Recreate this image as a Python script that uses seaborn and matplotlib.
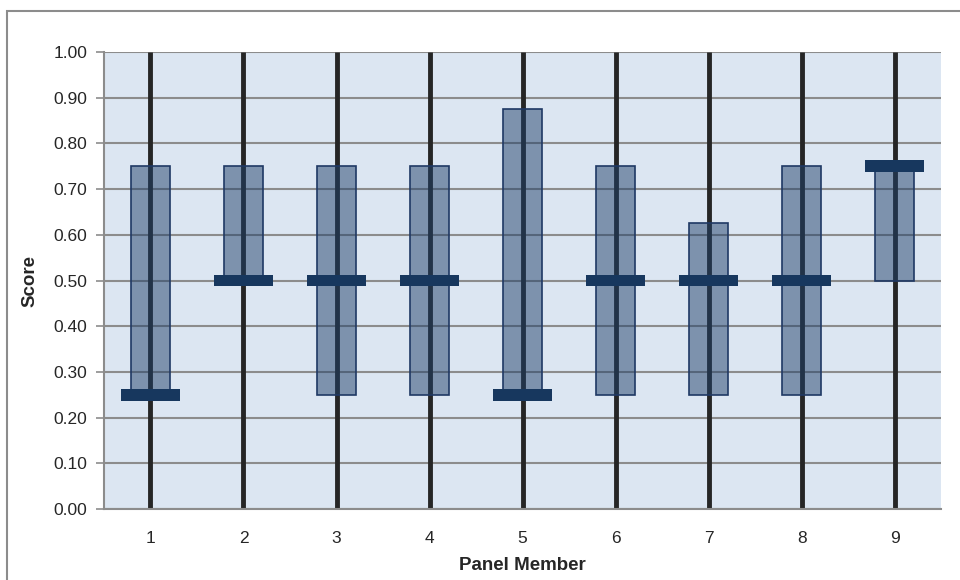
import numpy as np
import pandas as pd
import matplotlib
matplotlib.use("Agg")
import matplotlib.pyplot as plt
import seaborn as sns
from matplotlib.patches import Rectangle

# -------------------------------
# data
# -------------------------------
members = ["1", "2", "3", "4", "5", "6", "7", "8", "9"]
low = [0.25, 0.50, 0.25, 0.25, 0.25, 0.25, 0.25, 0.25, 0.50]
high = [0.75, 0.75, 0.75, 0.75, 0.875, 0.75, 0.625, 0.75, 0.75]
median = [0.25, 0.50, 0.50, 0.50, 0.25, 0.50, 0.50, 0.50, 0.75]
y_ticks = [0.0, 0.1, 0.2, 0.3, 0.4, 0.5, 0.6, 0.7, 0.8, 0.9, 1.0]

df = pd.DataFrame({"member": members, "low": low, "high": high, "median": median})
df["span"] = df["high"] - df["low"]

sns.set_style("white")
plt.rcParams["font.family"] = ["Liberation Sans", "DejaVu Sans"]

fig = plt.figure(figsize=(9.6, 5.8), dpi=100)
ax = fig.add_axes([0.1083, 0.1224, 0.8720, 0.7879])
ax.set_facecolor("#DCE6F2")

# outer chart border
fig.patches.append(Rectangle((7 / 960, -0.01), 1.0, (580 - 11) / 580 + 0.01,
                             transform=fig.transFigure, fill=False,
                             edgecolor="#8C8C8C", linewidth=1.5, zorder=0))

# floating boxes low -> high
sns.barplot(data=df, x="member", y="span", bottom=df["low"].to_numpy(),
            color="#1F406A", width=0.42, saturation=1, ax=ax, zorder=3)
for p in ax.patches:
    p.set_facecolor((0.122, 0.251, 0.416, 0.5))
    p.set_edgecolor("#1F3864")
    p.set_linewidth(1.2)

# full-height black lines per member
xs = np.arange(len(members))
ax.vlines(xs, 0, 1.0, color="#262626", linewidth=3.5, zorder=2)

# median markers
mh = 0.026
ax.bar(xs, [mh] * len(members), bottom=np.array(median) - mh / 2,
       width=0.64, color="#17375E", edgecolor="none", linewidth=0, zorder=4)

ax.set_xlim(-0.5, len(members) - 0.5)
ax.set_ylim(0, 1.0)
ax.set_yticks(y_ticks)
ax.set_yticklabels([f"{v:.2f}" for v in y_ticks])
ax.grid(axis="y", color="#8C8C8C", linewidth=1.5, zorder=1)
ax.set_axisbelow(True)

# category boundary ticks on x axis
ax.set_xticks(xs)
ax.set_xticks(np.arange(-0.5, len(members)), minor=True)
ax.tick_params(axis="x", which="major", length=0, labelsize=12.5, pad=15.5)
ax.tick_params(axis="x", which="minor", length=6, width=1.2, color="#8C8C8C",
               direction="out")
ax.tick_params(axis="y", length=6, width=1.2, color="#8C8C8C", labelsize=12.5,
               direction="out", left=True, pad=6)

for side in ["top", "right"]:
    ax.spines[side].set_visible(False)
for side in ["left", "bottom"]:
    ax.spines[side].set_color("#8C8C8C")
    ax.spines[side].set_linewidth(1.5)

ax.set_xlabel("Panel Member", fontsize=13.5, fontweight="bold", labelpad=8.5)
ax.set_ylabel("Score", fontsize=13.5, fontweight="bold", labelpad=11)

fig.savefig("out.png", dpi=100, facecolor="white")
